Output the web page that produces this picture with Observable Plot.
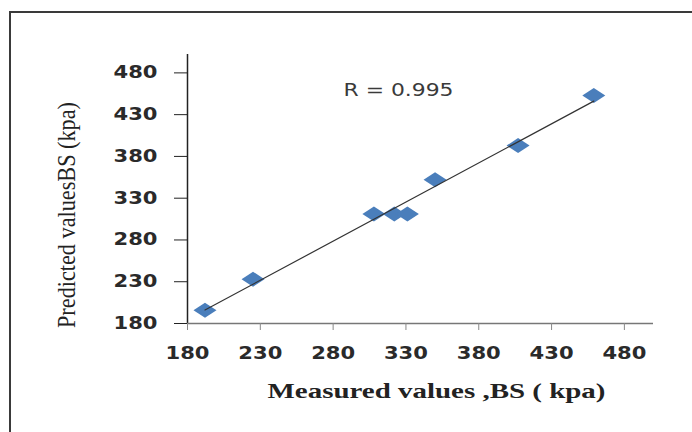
<!DOCTYPE html>
<html>
<head>
<meta charset="utf-8">
<script src="https://cdn.jsdelivr.net/npm/d3@7"></script>
<script src="https://cdn.jsdelivr.net/npm/@observablehq/plot@0.6"></script>
<style>
  html, body { margin: 0; padding: 0; background: #fff; overflow: hidden; }
  #wrap { position: relative; width: 692px; height: 432px; }
  #frame { position: absolute; left: 9px; top: 11px; width: 720px; height: 460px;
           border: 2px solid #3a3a3a; box-sizing: border-box; pointer-events: none; }
</style>
</head>
<body>
<div id="wrap"><div id="frame"></div></div>
<script>
// Data
const measured  = [192, 225, 308, 322, 331, 350, 407, 459];
const predicted = [196, 233, 311, 311, 311, 352, 393, 453];
const xTicks = [180, 230, 280, 330, 380, 430, 480];
const yTicks = [180, 230, 280, 330, 380, 430, 480];
const rText = "R = 0.995";
const xTitle = "Measured values ,BS ( kpa)";
const yTitle = "Predicted valuesBS (kpa)";

const data = measured.map((m, i) => ({x: m, y: predicted[i]}));

// horizontally stretched diamond
const wideDiamond = {
  draw(ctx) {
    const hw = 11.5, hh = 7.5;
    ctx.moveTo(0, -hh); ctx.lineTo(hw, 0); ctx.lineTo(0, hh); ctx.lineTo(-hw, 0); ctx.closePath();
  }
};

const tickFont = "DejaVu Sans, Verdana, sans-serif";
const serif = "Liberation Serif, Times New Roman, serif";

const chart = Plot.plot({
  width: 692,
  height: 432,
  marginLeft: 187,
  marginRight: 39,
  marginTop: 54,
  marginBottom: 109,
  style: {background: "transparent", fontFamily: tickFont, fontSize: "17px", color: "#222"},
  x: {domain: [180, 500]},
  y: {domain: [180, 502]},
  marks: [
    Plot.ruleX([180], {stroke: "#222", strokeWidth: 1.5}),
    Plot.ruleY([180], {stroke: "#777", strokeWidth: 1.5}),
    Plot.axisX({ticks: xTicks, tickSize: 7, tickPadding: 16, label: null, stroke: "#888", fill: "#2a2a2a", fontSize: 17, fontWeight: "bold"}),
    Plot.axisY({ticks: yTicks, tickSize: 13, tickPadding: 17, label: null, stroke: "#222", fill: "#2a2a2a", fontSize: 17, fontWeight: "bold"}),
    Plot.dot(data, {x: "x", y: "y", symbol: wideDiamond, fill: "#4a7ebb", stroke: "none"}),
    Plot.linearRegressionY(data, {x: "x", y: "y", stroke: "#333", strokeWidth: 1.2, ci: 0}),
    Plot.text([rText], {frameAnchor: "top", textAnchor: "middle", dx: -22, dy: 29, text: d => d, fontSize: 17, fill: "#3a3a3a", fontFamily: tickFont}),
    Plot.text([xTitle], {frameAnchor: "bottom", textAnchor: "middle", dx: 16, dy: 74, text: d => d, fontSize: 21, fontWeight: "bold", fill: "#222", fontFamily: serif}),
    Plot.text([yTitle], {frameAnchor: "left", textAnchor: "middle", dx: -121, dy: 26, rotate: -90, text: d => d, fontSize: 25, fill: "#222", fontFamily: serif})
  ]
});

document.getElementById("wrap").prepend(chart);

// stretch texts horizontally to match the reference's wide look
chart.querySelectorAll('g[aria-label="x-axis tick label"] text, g[aria-label="y-axis tick label"] text').forEach(t => {
  t.setAttribute("textLength", 44);
  t.setAttribute("lengthAdjust", "spacingAndGlyphs");
});
chart.querySelectorAll('g[aria-label="text"] text').forEach(t => {
  const s = t.textContent;
  let L = null;
  if (s === rText) L = 110;
  else if (s === xTitle) L = 338;
  else if (s === yTitle) L = 226;
  if (L) { t.setAttribute("textLength", L); t.setAttribute("lengthAdjust", "spacingAndGlyphs"); }
});
</script>
</body>
</html>
